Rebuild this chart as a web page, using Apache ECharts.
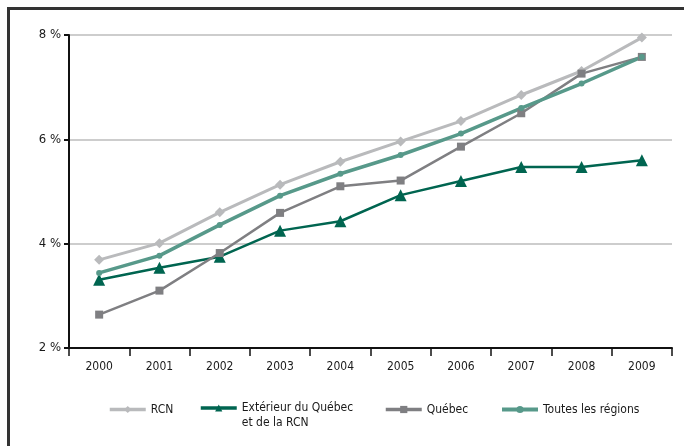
<!DOCTYPE html>
<html><head><meta charset="utf-8">
<script src="https://cdn.jsdelivr.net/npm/echarts@6/dist/echarts.min.js"></script>
<style>html,body{margin:0;padding:0;background:#fff}#c{width:684px;height:446px}</style>
</head><body><div id="c"></div>
<script>
var years = ['2000','2001','2002','2003','2004','2005','2006','2007','2008','2009'];
var rcn = [3.69, 4.01, 4.60, 5.13, 5.57, 5.96, 6.35, 6.85, 7.31, 7.95];
var exterieur = [3.31, 3.54, 3.75, 4.25, 4.43, 4.93, 5.20, 5.47, 5.47, 5.60];
var quebec = [2.64, 3.10, 3.82, 4.59, 5.10, 5.21, 5.86, 6.50, 7.26, 7.58];
var toutes = [3.44, 3.77, 4.36, 4.92, 5.34, 5.70, 6.11, 6.60, 7.07, 7.58];
var yTicks = [2, 4, 6, 8];
var names = ['RCN', 'Extérieur du Québec', 'Québec', 'Toutes les régions'];
var extLabel = ['Extérieur du Québec', 'et de la RCN'];

var FONT = '"DejaVu Sans Condensed","DejaVu Sans",sans-serif';
var FS = 12;
var chart = echarts.init(document.getElementById('c'));
function lg(name, left, top, lw) {
  return {data: [name], left: left, top: top, itemWidth: 36, itemHeight: 9, itemGap: 0,
    lineStyle: {width: lw},
    textStyle: {fontFamily: FONT, fontSize: FS, color: '#1a1a1a'}, selectedMode: false};
}
var leg2 = lg(names[1], 194, 380.5, 3.5);
leg2.formatter = function(){ return ' \n' + extLabel[0] + '\n' + extLabel[1]; };
leg2.textStyle.lineHeight = 15;
leg2.textStyle.padding = 0;
chart.setOption({
  animation: false,
  grid: {left: 69, right: 12, top: 35, bottom: 98},
  legend: [lg(names[0], 103, 398.5, 3.5), leg2, lg(names[2], 379, 398.5, 3.5), lg(names[3], 495, 398.5, 4)],
  graphic: [{type: 'polyline', shape: {points: [[8.5, 446], [8.5, 8.5], [684, 8.5]]},
    style: {stroke: '#333', lineWidth: 3, fill: null}}],
  xAxis: {type: 'category', data: years, boundaryGap: true,
    axisLine: {lineStyle: {color: '#111', width: 2}},
    axisTick: {show: true, length: 8, lineStyle: {color: '#111', width: 1.5}},
    axisLabel: {fontFamily: FONT, fontSize: FS, color: '#1a1a1a', margin: 13}},
  yAxis: {type: 'value', min: 2, max: 8, interval: 2,
    axisLine: {show: true, lineStyle: {color: '#111', width: 2}},
    axisTick: {show: true, length: 5, lineStyle: {color: '#111', width: 2}},
    axisLabel: {fontFamily: FONT, fontSize: 13, color: '#1a1a1a', margin: 8,
      formatter: function(v){ return yTicks.indexOf(v) >= 0 ? v + ' %' : ''; }},
    splitLine: {lineStyle: {color: '#bdbdbd', width: 1.5}}},
  series: [
    {name: names[0], type: 'line', data: rcn, symbol: 'diamond', symbolSize: 10,
      lineStyle: {color: '#b9babc', width: 3}, itemStyle: {color: '#b9babc'}},
    {name: names[1], type: 'line', data: exterieur, symbol: 'triangle', symbolSize: 12,
      lineStyle: {color: '#006550', width: 2.5}, itemStyle: {color: '#006550'}},
    {name: names[2], type: 'line', data: quebec, symbol: 'rect', symbolSize: 8,
      lineStyle: {color: '#7f7f82', width: 2.5}, itemStyle: {color: '#7f7f82'}},
    {name: names[3], type: 'line', data: toutes, symbol: 'circle', symbolSize: 6,
      lineStyle: {color: '#57998a', width: 3.5}, itemStyle: {color: '#57998a'}}
  ]
});
</script></body></html>
